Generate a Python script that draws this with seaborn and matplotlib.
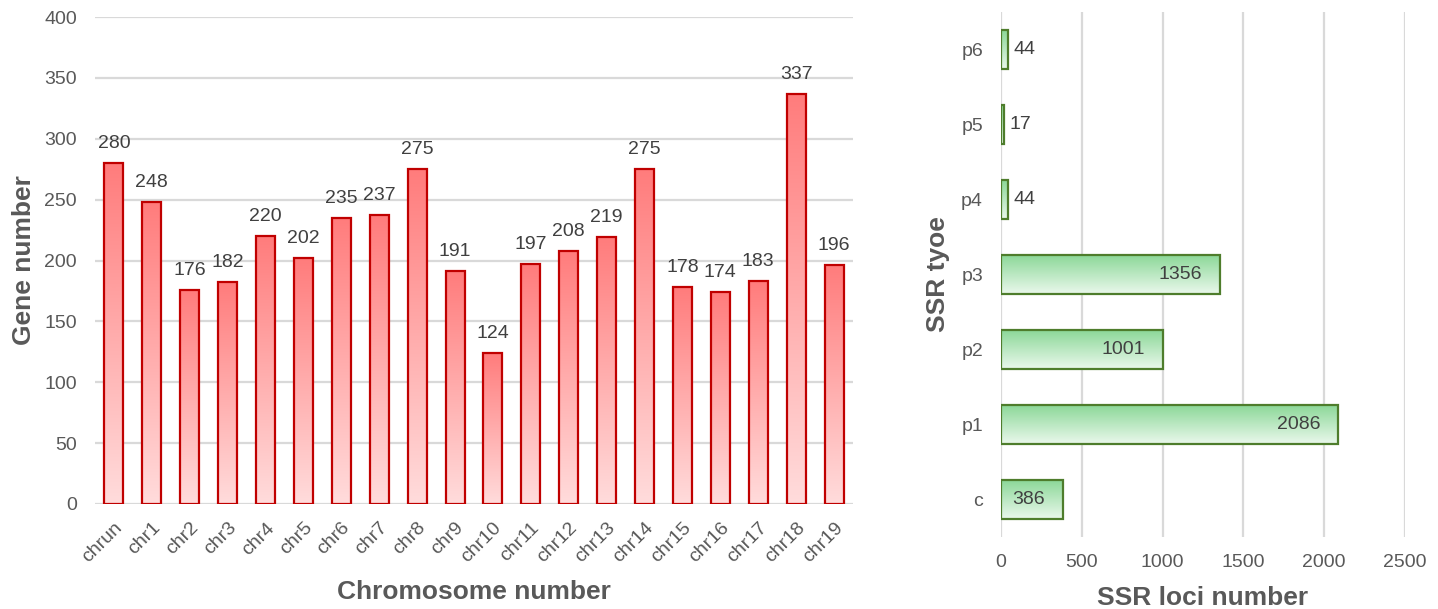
import numpy as np
import pandas as pd
import matplotlib
matplotlib.use("Agg")
import matplotlib.pyplot as plt
import seaborn as sns
from matplotlib.colors import LinearSegmentedColormap

chromosomes = ["chrun", "chr1", "chr2", "chr3", "chr4", "chr5", "chr6", "chr7", "chr8", "chr9",
               "chr10", "chr11", "chr12", "chr13", "chr14", "chr15", "chr16", "chr17", "chr18", "chr19"]
gene_counts = [280, 248, 176, 182, 220, 202, 235, 237, 275, 191,
               124, 197, 208, 219, 275, 178, 174, 183, 337, 196]

ssr_types = ["p6", "p5", "p4", "p3", "p2", "p1", "c"]
ssr_counts = [44, 17, 44, 1356, 1001, 2086, 386]

sns.set_theme(style="white")
plt.rcParams["font.family"] = ["Liberation Sans", "DejaVu Sans"]

TEXT = "#404040"
LABEL = "#595959"
GRID = "#D9D9D9"
FS = 14
TITLE_FS = 19

W, H = 1438, 609
fig = plt.figure(figsize=(W / 100, H / 100), dpi=100)


def px_axes(left, top, right, bottom):
    return fig.add_axes([left / W, 1 - bottom / H, (right - left) / W, (bottom - top) / H])


def gradient_bars(ax, top_color, bottom_color, edge):
    cmap = LinearSegmentedColormap.from_list("grad", [top_color, bottom_color])
    grad = np.linspace(0, 1, 256).reshape(-1, 1)
    inverted = ax.yaxis_inverted()
    for p in ax.patches:
        x0, y0, w, h = p.get_x(), p.get_y(), p.get_width(), p.get_height()
        lo, hi = (y0 + h, y0) if inverted else (y0, y0 + h)
        im = ax.imshow(grad, extent=(x0, x0 + w, lo, hi), origin="upper", cmap=cmap,
                       aspect="auto", zorder=2, interpolation="bilinear")
        im.set_clip_path(p)
        p.set_facecolor("none")
        p.set_edgecolor(edge)
        p.set_linewidth(1.6)
        p.set_zorder(3)


# ---- gene number per chromosome ----
ax1 = px_axes(95, 17, 853, 504)
df1 = pd.DataFrame({"chrom": chromosomes, "genes": gene_counts})
sns.barplot(data=df1, x="chrom", y="genes", ax=ax1, width=0.5, color="#FF8080",
            saturation=1, zorder=3)
gradient_bars(ax1, "#FF7C7C", "#FFDCDC", "#C00000")
ax1.set_xlim(-0.5, len(chromosomes) - 0.5)
ax1.set_ylim(0, 400)
ax1.set_yticks(np.arange(0, 401, 50))
ax1.yaxis.grid(True, color=GRID, linewidth=1.6, zorder=0)
ax1.set_axisbelow(True)
for s in ax1.spines.values():
    s.set_visible(False)
for i, v in enumerate(gene_counts):
    ax1.annotate(str(v), (i, v), xytext=(0, 8), textcoords="offset points",
                 ha="center", va="bottom", fontsize=FS, color=TEXT)
ax1.tick_params(axis="y", labelsize=FS, labelcolor=LABEL, length=0, pad=13)
ax1.tick_params(axis="x", labelsize=FS, labelcolor=LABEL, length=0, pad=11)
for lab in ax1.get_xticklabels():
    lab.set_rotation(45)
    lab.set_ha("right")
    lab.set_rotation_mode("anchor")
ax1.set_xlabel("Chromosome number", fontsize=TITLE_FS, fontweight="bold", color=LABEL, labelpad=10)
ax1.set_ylabel("Gene number", fontsize=TITLE_FS, fontweight="bold", color=LABEL, labelpad=6)

# ---- SSR loci per type ----
ax2 = px_axes(1001, 12, 1405, 537)
df2 = pd.DataFrame({"type": ssr_types, "loci": ssr_counts})
sns.barplot(data=df2, y="type", x="loci", orient="h", ax=ax2, width=0.52,
            color="#90DC9C", saturation=1, zorder=3)
gradient_bars(ax2, "#8CD898", "#EAF8EC", "#4E7D2C")
ax2.set_xlim(0, 2500)
ax2.set_ylim(len(ssr_types) - 0.5, -0.5)
ax2.set_xticks(np.arange(0, 2501, 500))
ax2.xaxis.grid(True, color=GRID, linewidth=1.6, zorder=0)
ax2.set_axisbelow(True)
for s in ax2.spines.values():
    s.set_visible(False)
for i, v in enumerate(ssr_counts):
    if v > 300:
        ax2.annotate(str(v), (v, i), xytext=(-13, 0), textcoords="offset points",
                     ha="right", va="center", fontsize=FS, color=TEXT, zorder=5)
    else:
        ax2.annotate(str(v), (v, i), xytext=(4, 0), textcoords="offset points",
                     ha="left", va="center", fontsize=FS, color=TEXT, zorder=5)
ax2.tick_params(axis="both", labelsize=FS, labelcolor=LABEL, length=0)
ax2.tick_params(axis="y", pad=13)
ax2.tick_params(axis="x", pad=12)
ax2.set_xlabel("SSR loci number", fontsize=TITLE_FS, fontweight="bold", color=LABEL, labelpad=11)
ax2.set_ylabel("SSR tyoe", fontsize=TITLE_FS, fontweight="bold", color=LABEL, labelpad=8)

fig.savefig("out.png", dpi=100, facecolor="white")
